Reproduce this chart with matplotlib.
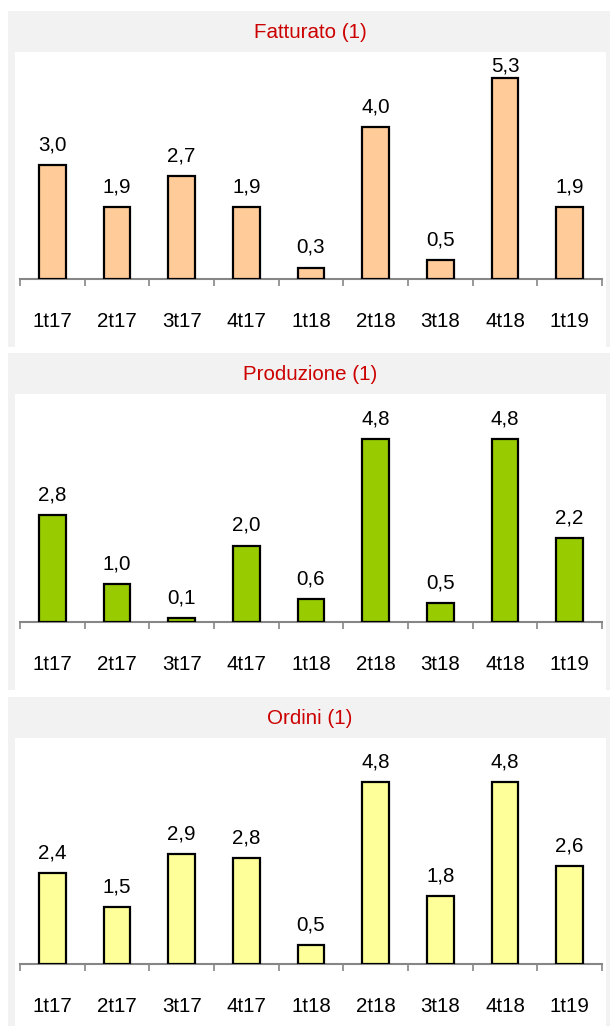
import matplotlib
matplotlib.use("Agg")
import matplotlib.pyplot as plt
from matplotlib.patches import Rectangle

# --- Data ---
quarters = ["1t17", "2t17", "3t17", "4t17", "1t18", "2t18", "3t18", "4t18", "1t19"]
fatturato = [3.0, 1.9, 2.7, 1.9, 0.3, 4.0, 0.5, 5.3, 1.9]
produzione = [2.8, 1.0, 0.1, 2.0, 0.6, 4.8, 0.5, 4.8, 2.2]
ordini = [2.4, 1.5, 2.9, 2.8, 0.5, 4.8, 1.8, 4.8, 2.6]

titles = ["Fatturato (1)", "Produzione (1)", "Ordini (1)"]
series = [fatturato, produzione, ordini]
colors = ["#FFCC99", "#99CC00", "#FFFF99"]

# --- Layout (pixels) ---
W, H = 610, 1026
YMAX = 6.0
panels = [
    # gray top, gray bottom, white top, axis line y
    (11, 347, 52, 279),
    (353, 690, 394, 622),
    (697, 1030, 738, 964),
]

plt.rcParams["font.family"] = ["Liberation Sans", "DejaVu Sans"]
FS = 14.8

fig = plt.figure(figsize=(W / 100, H / 100), dpi=100)
fig.patch.set_facecolor("white")


def fx(px):
    return px / W


def fy(py):
    return 1 - py / H


for (g_top, g_bot, w_top, axis_y), title, vals, col in zip(panels, titles, series, colors):
    # gray frame + white plot area
    fig.add_artist(Rectangle((fx(8), fy(g_bot)), fx(610 - 8), (g_bot - g_top) / H,
                             transform=fig.transFigure, facecolor="#F2F2F2",
                             edgecolor="none", zorder=0))
    fig.add_artist(Rectangle((fx(15), fy(g_bot)), fx(606 - 15), (g_bot - w_top) / H,
                             transform=fig.transFigure, facecolor="white",
                             edgecolor="none", zorder=0))
    fig.text(fx(310), fy((g_top + w_top) / 2 + 1.5), title, color="#CC0000",
             fontsize=FS, ha="center", va="center")

    ax_h = (axis_y - w_top + 1) / H
    ax = fig.add_axes([fx(20), fy(axis_y), fx(602 - 20), ax_h])
    ax.set_facecolor("none")
    x = range(len(quarters))
    ax.bar(x, vals, width=0.41, color=col, edgecolor="black", linewidth=1.6, zorder=3)

    for xi, v in zip(x, vals):
        ly = min(v + 0.53, 5.6)
        ax.text(xi, ly, f"{v:.1f}".replace(".", ","), ha="center", va="center",
                fontsize=FS, color="black")

    ax.set_xlim(-0.5, len(quarters) - 0.5)
    ax.set_ylim(0, YMAX)
    for s in ["top", "right", "left"]:
        ax.spines[s].set_visible(False)
    ax.spines["bottom"].set_color("#868686")
    ax.spines["bottom"].set_linewidth(1.5)
    ax.set_yticks([])

    ax.set_xticks(list(x))
    ax.set_xticklabels(quarters, fontsize=FS)
    ax.tick_params(axis="x", which="major", length=0, pad=24)
    ax.set_xticks([i - 0.5 for i in range(len(quarters) + 1)], minor=True)
    ax.tick_params(axis="x", which="minor", length=5, width=1.2, color="#868686",
                   direction="out")

fig.savefig("out.png", dpi=100)
